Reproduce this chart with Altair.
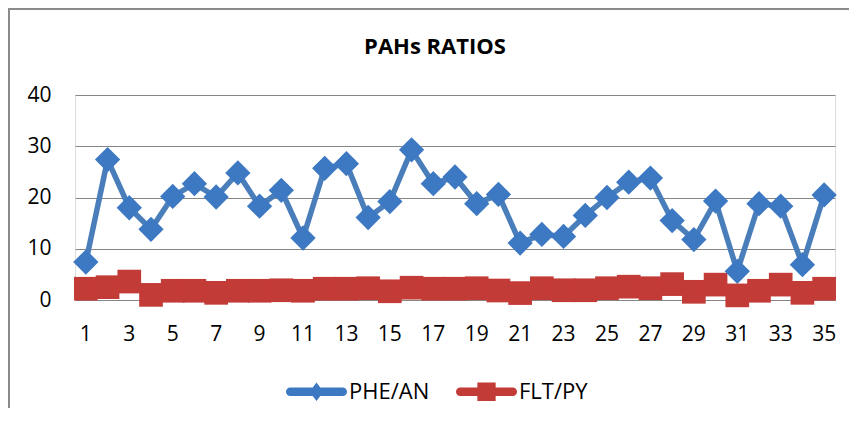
import altair as alt
import pandas as pd

# ---- data ----
categories = list(range(1, 36))
phe_an = [7.4, 27.4, 18.0, 13.8, 20.2, 22.7, 20.1, 24.8, 18.3, 21.4, 12.1, 25.7,
          26.6, 16.1, 19.2, 29.3, 22.7, 24.0, 18.8, 20.6, 11.1, 12.8, 12.4, 16.5,
          20.0, 23.0, 23.8, 15.5, 11.8, 19.3, 5.6, 18.8, 18.3, 6.9, 20.5]
flt_py = [2.2, 2.5, 3.6, 1.0, 1.8, 1.8, 1.4, 1.8, 1.8, 1.9, 1.8, 2.2,
          2.2, 2.3, 1.7, 2.4, 2.2, 2.2, 2.3, 1.85, 1.35, 2.3, 1.9, 1.9,
          2.3, 2.6, 2.3, 3.1, 1.6, 3.0, 0.9, 1.8, 3.0, 1.4, 2.2]
series_names = ["PHE/AN", "FLT/PY"]
y_ticks = [0, 10, 20, 30, 40]

rows = []
for c, a, b in zip(categories, phe_an, flt_py):
    rows.append({"cat": c, "series": series_names[0], "value": a})
    rows.append({"cat": c, "series": series_names[1], "value": b})
df = pd.DataFrame(rows)

FONT = "Open Sans"
W, H = 760, 205
line_colors = ["#4a7ebb", "#be4b48"]
fill_colors = ["#3d78c2", "#c33b37"]

leg_line = "M-0.86,-0.14L0.86,-0.14A0.14,0.14 0 0 1 0.86,0.14L-0.86,0.14A0.14,0.14 0 0 1 -0.86,-0.14Z"
leg_phe = leg_line + " M-0.23,0L0,-0.3L0.23,0L0,0.3Z"
leg_flt = leg_line + " M-0.3,-0.3L0.3,-0.3L0.3,0.3L-0.3,0.3Z"

x_enc = alt.X("cat:O", sort=categories,
              scale=alt.Scale(type="band", paddingInner=0, paddingOuter=0),
              axis=alt.Axis(title=None, labelAngle=0, ticks=False, domain=False,
                            labelExpr="datum.value % 2 == 1 ? datum.label : ''",
                            labelFont=FONT, labelFontSize=21, labelColor="#000000",
                            labelPadding=23, grid=False))
y_enc = alt.Y("value:Q", scale=alt.Scale(domain=[0, 40], nice=False),
              axis=alt.Axis(title=None, values=y_ticks, ticks=False, domain=False,
                            labelFont=FONT, labelFontSize=21, labelColor="#000000",
                            labelPadding=24, grid=True, gridColor="#868686",
                            gridWidth=1))

base = alt.Chart(df)

lines = base.mark_line(strokeWidth=5.5).encode(
    x=x_enc, y=y_enc,
    stroke=alt.Stroke("series:N", sort=series_names,
                      scale=alt.Scale(domain=series_names, range=line_colors),
                      legend=None),
)

points = base.mark_point(filled=True, opacity=1, strokeWidth=0).encode(
    x=x_enc, y=y_enc,
    shape=alt.Shape("series:N", sort=series_names,
                    scale=alt.Scale(domain=series_names, range=["diamond", "square"]),
                    legend=None),
    size=alt.Size("series:N", sort=series_names,
                  scale=alt.Scale(domain=series_names, range=[640, 560]),
                  legend=None),
    fill=alt.Fill("series:N", sort=series_names,
                  scale=alt.Scale(domain=series_names, range=fill_colors),
                  legend=None),
)

legend_props = dict(title=None, orient="none", direction="horizontal",
                    legendX=211, legendY=266, padding=0,
                    symbolSize=3721, symbolStrokeWidth=0,
                    labelFont=FONT, labelFontSize=22,
                    labelColor="#000000", labelOffset=2, columnPadding=26)

legend_layer = base.transform_filter("false").mark_point(
    filled=True, opacity=1, strokeWidth=0).encode(
    x=x_enc, y=y_enc,
    shape=alt.Shape("series:N", sort=series_names,
                    scale=alt.Scale(domain=series_names, range=[leg_phe, leg_flt]),
                    legend=alt.Legend(**legend_props)),
    fill=alt.Fill("series:N", sort=series_names,
                  scale=alt.Scale(domain=series_names, range=fill_colors),
                  legend=alt.Legend(**legend_props)),
)

frame_top = alt.Chart(df).mark_rule(color="#8a8a8a", strokeWidth=1.5).encode(
    x=alt.value(-67), x2=alt.value(W + 20), y=alt.value(-86.5))
frame_left = alt.Chart(df).mark_rule(color="#8a8a8a", strokeWidth=1.5).encode(
    x=alt.value(-66.5), y=alt.value(-87), y2=alt.value(H + 120))

chart = alt.layer(lines, points, legend_layer, frame_top, frame_left).resolve_scale(
    shape="independent", fill="independent"
).properties(
    width=W, height=H,
    title=alt.TitleParams("PAHs RATIOS", font=FONT, fontSize=22, fontWeight="bold",
                          color="#000000", anchor="middle", dx=-20, offset=0, dy=69,
                          baseline="alphabetic"),
    autosize=alt.AutoSizeParams(type="none"),
    padding={"left": 67, "top": 87, "right": 14, "bottom": 108},
).configure_view(stroke=None).configure(background="#ffffff")

chart.save("out.html", embed_options={"renderer": "svg", "actions": False})
